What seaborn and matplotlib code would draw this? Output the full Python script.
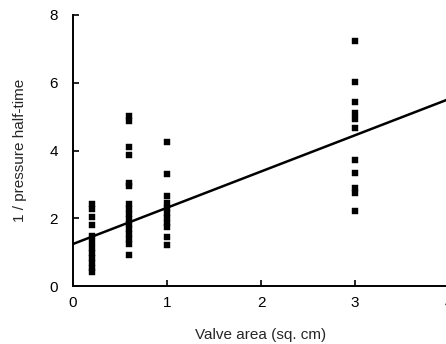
import matplotlib
matplotlib.use("Agg")
import matplotlib.pyplot as plt
import seaborn as sns
import numpy as np
import pandas as pd

# Data
area_a = 0.2
vals_a = [2.42, 2.27, 2.04, 1.80, 1.47, 1.30, 1.12, 0.97, 0.83, 0.68, 0.53, 0.41]
area_b = 0.6
vals_b = [5.01, 4.87, 4.10, 3.86, 3.05, 2.95, 2.42, 2.27, 2.12, 1.98, 1.83, 1.68, 1.53, 1.39, 1.24, 0.91]
area_c = 1.0
vals_c = [4.25, 3.30, 2.65, 2.45, 2.30, 2.15, 2.00, 1.86, 1.74, 1.45, 1.21]
area_d = 3.0
vals_d = [7.23, 6.02, 5.43, 5.10, 4.93, 4.66, 3.72, 3.33, 2.89, 2.74, 2.21]

line_intercept = 1.24
line_slope = 1.07
x_ticks = [0, 1, 2, 3, 4]
y_ticks = [0, 2, 4, 6, 8]

df = pd.DataFrame({
    "area": [area_a] * len(vals_a) + [area_b] * len(vals_b) + [area_c] * len(vals_c) + [area_d] * len(vals_d),
    "inv": vals_a + vals_b + vals_c + vals_d,
})

sns.set_style("ticks")
plt.rcParams["font.family"] = ["Liberation Sans", "DejaVu Sans"]

fig = plt.figure(figsize=(4.46, 3.44), dpi=100)
W, H = 446, 344
ax = fig.add_axes([73 / W, (H - 286) / H, (449 - 73) / W, (286 - 15) / H])

sns.scatterplot(data=df, x="area", y="inv", marker="s", s=13, color="black",
                edgecolor="black", linewidth=0.3, ax=ax)

line_x = np.array([0.0, 4.0])
sns.lineplot(x=line_x, y=line_intercept + line_slope * line_x, color="black", linewidth=1.8, ax=ax)

ax.set_xlim(0, 4)
ax.set_ylim(0, 8)
ax.set_xticks(x_ticks)
ax.set_yticks(y_ticks)
ax.tick_params(direction="in", length=4, width=1.2, labelsize=11, colors="black")
ax.tick_params(axis="y", pad=11)
ax.tick_params(axis="x", pad=7)
for sp in ["top", "right"]:
    ax.spines[sp].set_visible(False)
for sp in ["left", "bottom"]:
    ax.spines[sp].set_linewidth(1.4)
    ax.spines[sp].set_color("black")

ax.set_xlabel("Valve area (sq. cm)", fontsize=11, labelpad=13)
ax.set_ylabel("1 / pressure half-time", fontsize=11, labelpad=16)

fig.savefig("out.png", dpi=100)
